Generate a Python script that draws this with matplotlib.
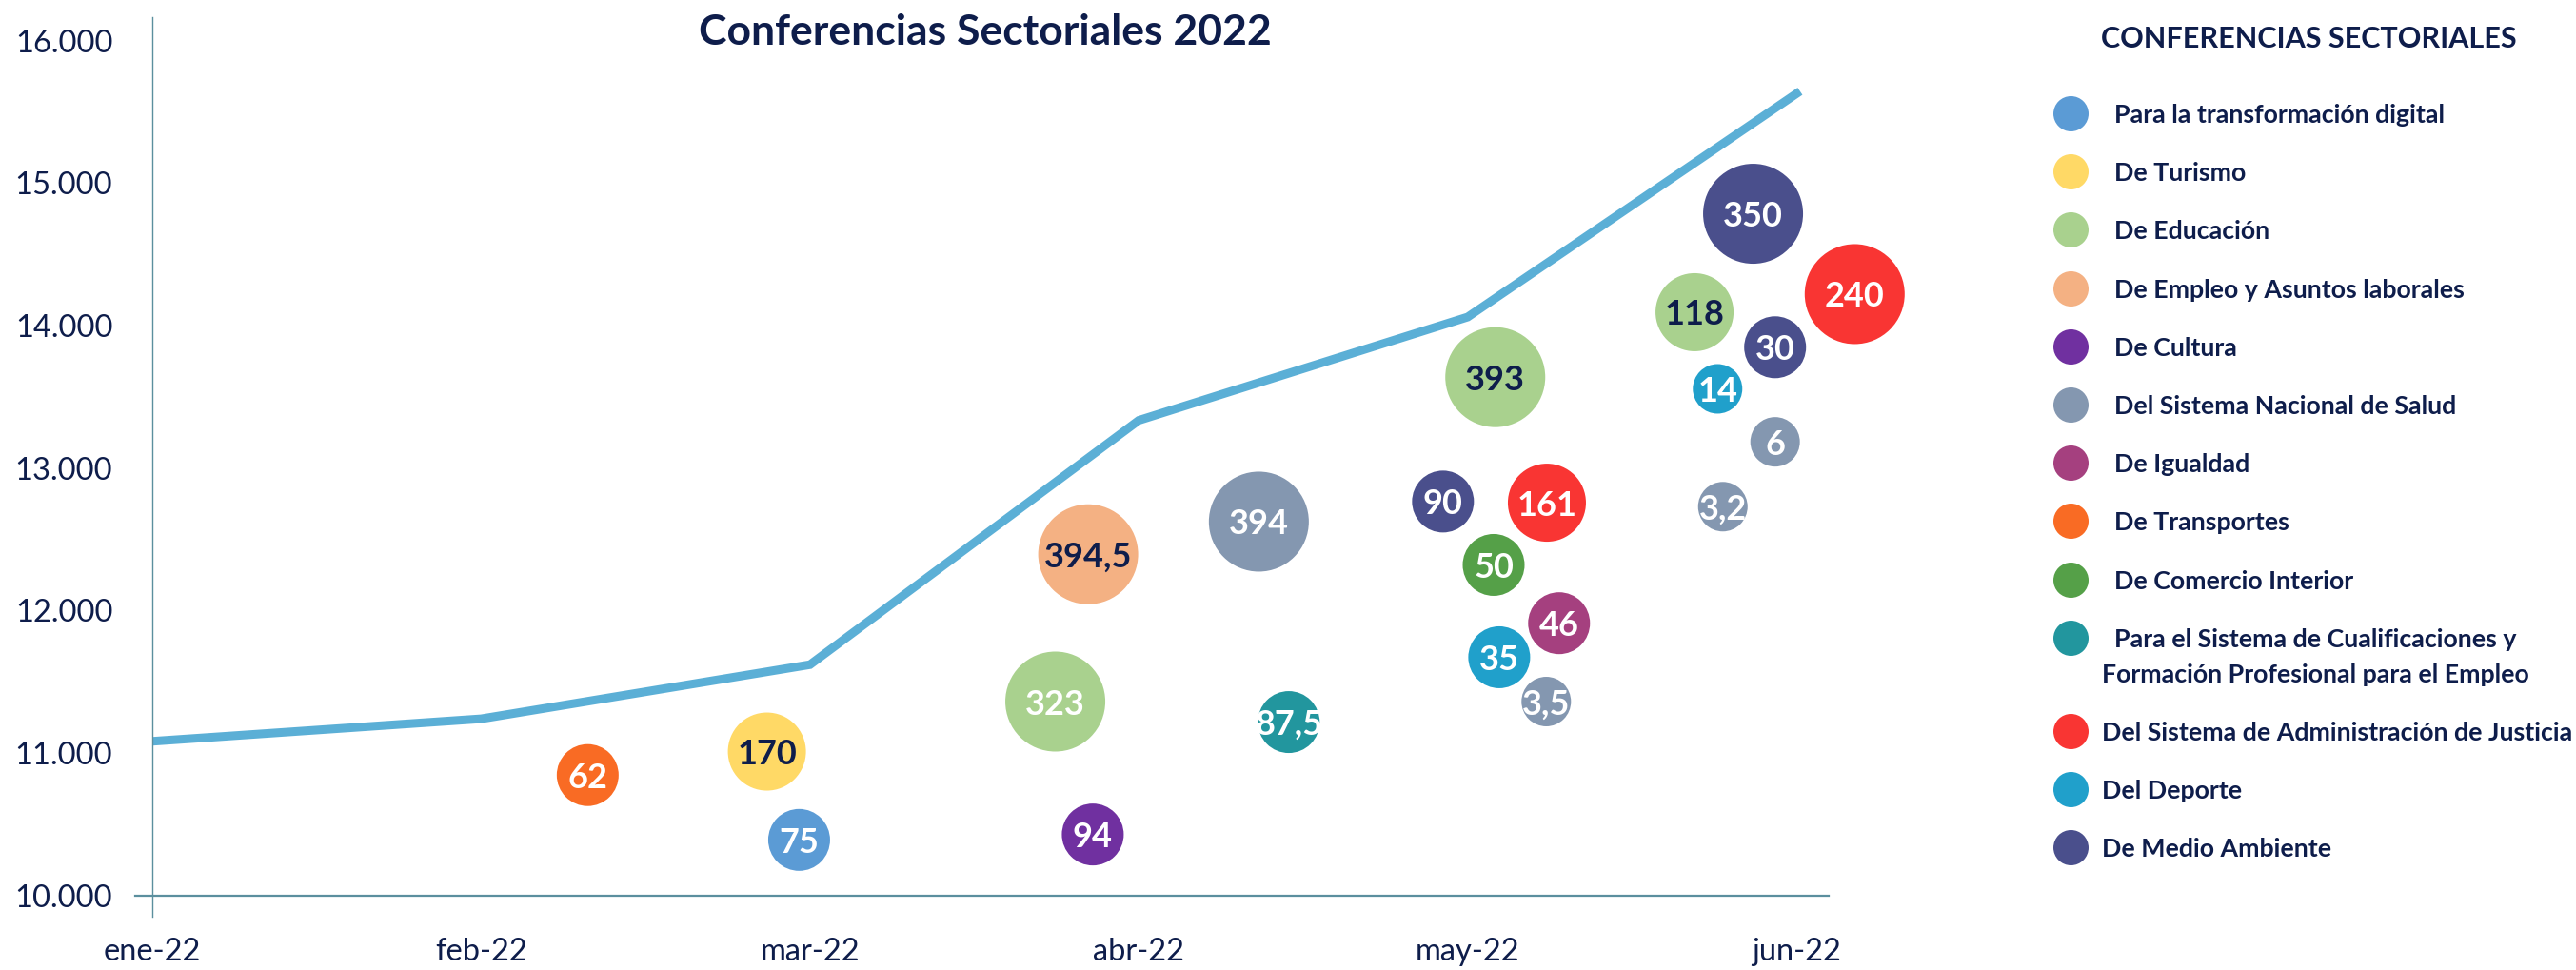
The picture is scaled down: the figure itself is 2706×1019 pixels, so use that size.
import numpy as np
import matplotlib
matplotlib.use("Agg")
import matplotlib.pyplot as plt
from matplotlib.ticker import FuncFormatter

plt.rcParams["font.family"] = ["Lato", "DejaVu Sans"]

NAVY = "#0E1D4B"
AXIS = "#5B8F9E"
LINE = "#5BAFD6"

# ---- data ----
months = ["ene-22", "feb-22", "mar-22", "abr-22", "may-22", "jun-22"]
total = [11082, 11240, 11620, 13335, 14060, 15628]

categories = [
    "Para la transformación digital",
    "De Turismo",
    "De Educación",
    "De Empleo y Asuntos laborales",
    "De Cultura",
    "Del Sistema Nacional de Salud",
    "De Igualdad",
    "De Transportes",
    "De Comercio Interior",
    "Para el Sistema de Cualificaciones y\nFormación Profesional para el Empleo",
    "Del Sistema de Administración de Justicia",
    "Del Deporte",
    "De Medio Ambiente",
]
cat_colors = ["#5B9BD5", "#FFD966", "#A9D18E", "#F4B183", "#7030A0", "#8497B0",
              "#A5407F", "#F96B24", "#55A048", "#22969E", "#F93533", "#20A0CB",
              "#4A4F8C"]

# bubbles: position in months since ene-22, y value, category index, label
conf_x = [1.324, 1.869, 1.967, 2.846, 2.746, 2.860, 3.365, 3.456, 4.084, 3.925, 4.241,
          4.079, 4.278, 4.096, 4.239, 4.690, 4.868, 5.177, 4.935, 4.760, 4.935, 4.776]
conf_y = [10845, 11010, 10390, 12395, 11361, 10428, 12624, 11217, 13638, 12765, 12757,
          12320, 11911, 11672, 11361, 14094, 14785, 14221, 13848, 13556, 13184, 12729]
conf_cat = [7, 1, 0, 3, 2, 4, 5, 9, 2, 12, 10, 8, 6, 11, 5, 2, 12, 10, 12, 11, 5, 5]
conf_val = [62, 170, 75, 394.5, 323, 94, 394, 87.5, 393, 90, 161, 50, 46, 35, 3.5,
            118, 350, 240, 30, 14, 6, 3.2]
dark_labels = {"170", "394,5", "393", "118"}


def fmt_num(v):
    s = f"{v:g}"
    return s.replace(".", ",")


fig = plt.figure(figsize=(27.06, 10.19), dpi=100)
W, H = 2706, 1019
ax = fig.add_axes([160 / W, (H - 963) / H, (1921 - 160) / W, (963 - 18) / H])

x_idx = np.arange(len(months))
ax.plot(x_idx, total, color=LINE, linewidth=6.5, solid_joinstyle="miter", zorder=2)

# bubble diameter (px) grouped by value class
diam_px = np.array([52, 65, 82, 105])[np.digitize(conf_val, [20, 100, 200])]
sizes = (diam_px * 0.72) ** 2
colors = [cat_colors[c] for c in conf_cat]
ax.scatter(conf_x, conf_y, s=sizes, c=colors, linewidths=0, zorder=3, clip_on=False)
for x, y, v in zip(conf_x, conf_y, conf_val):
    lab = fmt_num(v)
    ax.text(x, y, lab, ha="center", va="center_baseline", fontsize=26, fontweight="bold",
            color=NAVY if lab in dark_labels else "white", zorder=4)

ax.set_xlim(0, 5.098)
ax.set_ylim(9851, 16165)
ax.set_xticks(x_idx)
ax.set_xticklabels(months)
ax.set_yticks(np.arange(10000, 16001, 1000))
ax.yaxis.set_major_formatter(FuncFormatter(lambda v, p: f"{int(v):,}".replace(",", ".")))
ax.tick_params(axis="y", length=0, pad=30, labelsize=23.5, labelcolor=NAVY)
ax.tick_params(axis="x", length=0, pad=16, labelsize=23.5, labelcolor=NAVY)
for s in ["top", "right", "bottom"]:
    ax.spines[s].set_visible(False)
ax.spines["left"].set_color(AXIS)
ax.spines["left"].set_linewidth(1.0)
ax.axhline(10000, xmin=-0.0104, xmax=1, color=AXIS, linewidth=1.6, clip_on=False, zorder=1)

fig.text(1035 / W, 1 - 34 / H, "Conferencias Sectoriales 2022", ha="center", va="center",
         fontsize=32, fontweight="bold", color=NAVY)

# ---- legend (drawn in pixel coordinates) ----
lg = fig.add_axes([0, 0, 1, 1])
lg.set_xlim(0, W)
lg.set_ylim(H, 0)
lg.axis("off")
lg.text(2425, 41, "CONFERENCIAS SECTORIALES", ha="center", va="center",
        fontsize=22, fontweight="bold", color=NAVY)
y = 119
for i, (name, col) in enumerate(zip(categories, cat_colors)):
    lg.scatter([2175], [y], s=(37 * 0.72) ** 2, color=col, linewidths=0)
    tx = 2221 if i < 10 else 2208
    lines = name.split("\n")
    lg.text(tx, y, lines[0], ha="left", va="center_baseline", fontsize=19.3,
            fontweight="bold", color=NAVY)
    if len(lines) > 1:
        lg.text(2208, y + 37, lines[1], ha="left", va="center_baseline", fontsize=19.3,
                fontweight="bold", color=NAVY)
        y += 98
    else:
        y += 61.2

fig.savefig("out.png", dpi=100)
